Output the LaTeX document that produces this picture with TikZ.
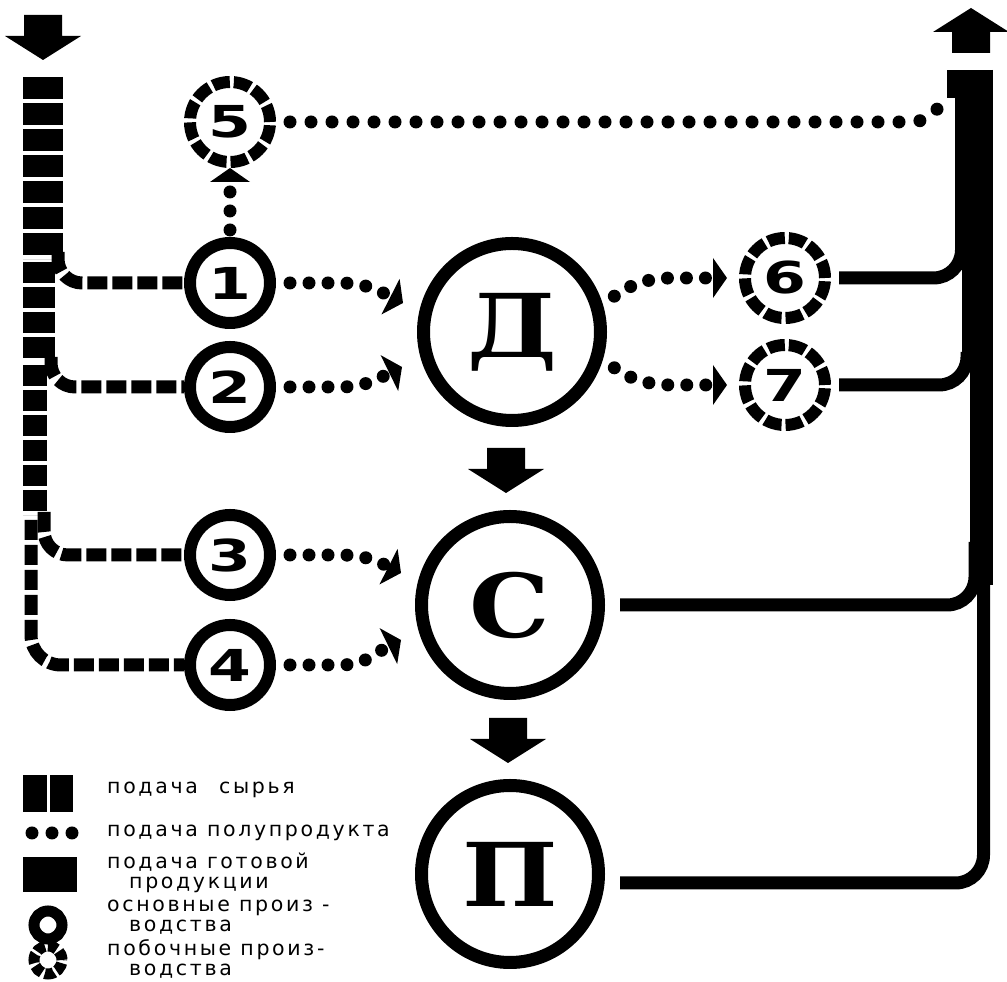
\documentclass[tikz,border=0pt]{standalone}
\usepackage{fontspec}
\setmainfont{DejaVu Sans}
\newfontfamily\lettersfont[FakeStretch=1.15]{DejaVu Serif}
\newfontfamily\digitsfont[FakeStretch=1.4]{DejaVu Sans}
\newfontfamily\legendfont[LetterSpace=13]{DejaVu Sans}
\usetikzlibrary{arrows.meta}

\tikzset{
    main/.style={circle, draw, line width=13pt, minimum size=177pt, inner sep=0pt,
        font=\lettersfont\bfseries\fontsize{88}{88}\selectfont},
    small/.style={circle, draw, line width=12pt, minimum size=80pt, inner sep=0pt,
        font=\digitsfont\bfseries\fontsize{44}{44}\selectfont},
    side/.style={small, dash pattern=on 17pt off 4pt},
    raw/.style={line width=13pt, dash pattern=on 20pt off 5pt},
    semi/.style={line width=13pt, line cap=round, dash pattern=on 0pt off 19pt},
    tip/.style={-{Triangle[width=40pt, length=14pt, line width=0pt]}},
    prod/.style={line width=13pt},
    legend/.style={anchor=west, inner sep=0pt, align=left,
        font=\legendfont\fontsize{20.5}{20}\selectfont},
    blockarrow/.pic={
        \fill (-19,0) -- (19,0) -- (19,-21) -- (38,-21) -- (0,-45)
              -- (-38,-21) -- (-19,-21) -- cycle;
    }
}

\begin{document}
\begin{tikzpicture}[x=1pt, y=1pt]
    \useasboundingbox (0,0) rectangle (1007,982);

    % main and side productions
    \node[main] (D) at (512,650) {Д};
    \node[main] (C) at (510,377) {С};
    \node[main] (P) at (510,108) {П};
    \node[small] (n1) at (230,699) {1};
    \node[small] (n2) at (230,595) {2};
    \node[small] (n3) at (230,427) {3};
    \node[small] (n4) at (230,317) {4};
    \node[side] (n5) at (230,860) {5};
    \node[side] (n6) at (785,704) {6};
    \node[side] (n7) at (785,597) {7};

    % raw material
    \pic at (43,967) {blockarrow};
    \draw[raw, line width=40pt, dash pattern=on 22pt off 4pt] (43,905) -- (43,723);
    \draw[raw, line width=32pt, dash pattern=on 21pt off 4pt] (39,720) -- (39,622);
    \draw[raw, line width=24pt, dash pattern=on 21pt off 4pt] (35,617) -- (35,467);
    \draw[raw, rounded corners=30pt] (31,462) |- (n4.west);
    \coordinate (b1) at (58,730);
    \coordinate (b2) at (51,625);
    \coordinate (b3) at (44,470);
    \draw[raw, rounded corners=24pt] (b1) |- (n1.west);
    \draw[raw, rounded corners=24pt] (b2) |- (n2.west);
    \draw[raw, rounded corners=24pt] (b3) |- (n3.west);

    % half products
    \coordinate (d1) at (403,679);
    \coordinate (d2) at (402,615);
    \coordinate (c3) at (401,409);
    \coordinate (c4) at (401,342);
    \coordinate (t6) at (727,704);
    \coordinate (t7) at (727,597);
    \draw[semi, tip, shorten <=14pt] (n1.east) -- ++(65,0) to[out=0, in=153] (d1);
    \draw[semi, tip, shorten <=14pt] (n2.east) -- ++(65,0) to[out=0, in=-154] (d2);
    \draw[semi, tip, shorten <=14pt] (n3.east) -- ++(65,0) to[out=0, in=153] (c3);
    \draw[semi, tip, shorten <=14pt] (n4.east) -- ++(65,0) to[out=0, in=-154] (c4);
    \draw[semi, tip, shorten <=7pt] (n1.north) -- (n5.south);
    \draw[semi, tip, shorten <=14pt] (D.17) to[out=35, in=180] (672,704) -- (t6);
    \draw[semi, tip, shorten <=14pt] (D.-17) to[out=-35, in=180] (672,597) -- (t7);
    \draw[semi, dash pattern=on 0pt off 21pt, shorten <=14pt]
        (n5.east) -- (910,860) to[out=0, in=-120] (942,880);

    \pic at (506,534) {blockarrow};
    \pic at (508,264) {blockarrow};

    % finished products
    \draw[prod, line width=46pt] (970,912) -- (970,884);
    \draw[prod, line width=38pt] (974,885) -- (974,722);
    \draw[prod, line width=31pt] (977.5,723) -- (977.5,617);
    \draw[prod, line width=23pt] (981.5,618) -- (981.5,397);
    \draw[prod, rounded corners=28pt, shorten <=8pt] (n6.east) -| (961.5,760);
    \draw[prod, rounded corners=28pt, shorten <=8pt] (n7.east) -| (967,630);
    \draw[prod, rounded corners=28pt, shorten <=15pt] (C.east) -| (975,440);
    \draw[prod, rounded corners=28pt, shorten <=15pt] ([yshift=-9pt]P.east) -| (983.5,398);
    \pic[rotate=180] at (971,929) {blockarrow};

    % legend
    \fill (23,170) rectangle (47,207);
    \fill (50,170) rectangle (73,207);
    \node[legend] (l1) at (107,192) {подача\hspace*{12pt} сырья};
    \foreach \x in {32,52,72}
        \fill (\x,149) circle (6.5);
    \node[legend] (l2) at (107,149) {подача полупродукта};
    \fill (23,90) rectangle (77,125);
    \node[legend] (l3) at (107,109) {подача готовой\\\hspace*{22pt}продукции};
    \draw[line width=11pt] (48,57) circle (14);
    \node[legend] (l4) at (107,65) {основные произ -\\\hspace*{22pt}водства};
    \draw[line width=11pt, dash pattern=on 9.5pt off 3pt] (48,22) circle (14);
    \node[legend] (l5) at (107,23) {побочные произ-\\\hspace*{22pt}водства};
\end{tikzpicture}
\end{document}
